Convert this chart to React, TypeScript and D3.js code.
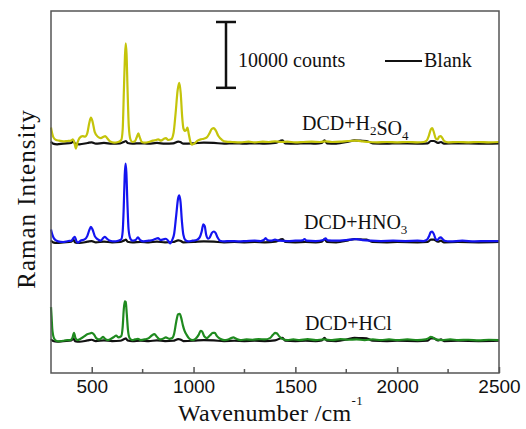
import React, { useEffect, useRef } from 'react';
import * as d3 from 'd3';

// Raman spectra, [wavenumber, counts above the curve's own baseline]
const h2so4Points: [number, number][] = [
    [300, 2300], [305, 1500], [312, 800], [325, 400], [340, 300], [360, 200], [380, 250], [398, 300], [408, 500],
    [415, 0], [422, -900], [430, 0], [440, 700], [455, 1000], [467, 900], [478, 1400], [488, 3000], [496, 3800],
    [504, 3200], [515, 1600], [530, 900], [545, 700], [558, 900], [566, 1000], [575, 700], [590, 200], [610, 0],
    [630, 100], [645, 400], [652, 2000], [658, 8000], [663, 13000], [667, 15100], [671, 13500], [676, 8000],
    [682, 2500], [690, 500], [700, 100], [712, 200], [722, 900], [729, 1400], [736, 800], [746, 100], [760, 0],
    [780, 100], [800, 300], [815, 400], [826, 500], [840, 300], [855, 600], [864, 700], [875, 400], [890, 500],
    [902, 1500], [912, 4500], [922, 8000], [930, 9100], [937, 7500], [944, 4000], [950, 2200], [957, 1800],
    [964, 1900], [970, 2300], [976, 1400], [984, 200], [993, -300], [1005, -100], [1020, 300], [1035, 500],
    [1050, 600], [1065, 800], [1078, 1400], [1090, 2100], [1100, 2200], [1110, 1800], [1122, 1000], [1140, 400],
    [1160, 150], [1190, 100], [1230, 50], [1270, 150], [1300, 50], [1340, 150], [1370, 100], [1400, 200],
    [1430, 100], [1460, 150], [1500, 50], [1540, 100], [1580, 150], [1620, 100], [1650, 200], [1680, 100],
    [1720, 150], [1760, 250], [1800, 300], [1830, 200], [1860, 100], [1900, 50], [1950, 100], [2000, 50],
    [2050, 100], [2100, 50], [2130, 100], [2145, 300], [2155, 1000], [2165, 2000], [2172, 2200], [2180, 1600],
    [2190, 600], [2198, 500], [2206, 900], [2214, 1000], [2222, 700], [2232, 200], [2250, 50], [2300, 100],
    [2350, 50], [2400, 100], [2450, 50], [2500, 100]
];

const hno3Points: [number, number][] = [
    [300, 1800], [305, 1200], [312, 600], [322, 200], [335, 0], [360, -100], [385, 50], [400, 100], [410, 500],
    [417, 700], [424, 100], [432, -200], [445, 100], [465, 300], [478, 800], [488, 1700], [496, 2200], [504, 1800],
    [515, 800], [530, 300], [545, 100], [556, 500], [565, 700], [575, 400], [590, 100], [610, 0], [630, 100],
    [645, 300], [652, 1500], [657, 5000], [662, 10000], [666, 11800], [670, 10500], [675, 6000], [681, 1800],
    [690, 400], [700, 100], [715, 200], [727, 600], [738, 200], [755, 0], [780, 100], [800, 200], [815, 400],
    [825, 500], [838, 200], [852, 300], [864, 400], [875, 100], [885, -300], [895, 200], [905, 1200], [915, 4000],
    [924, 6500], [930, 7000], [936, 6000], [943, 3000], [950, 1000], [960, 200], [975, 0], [995, 100], [1015, 200],
    [1030, 600], [1040, 1500], [1048, 2600], [1055, 2300], [1062, 1000], [1072, 400], [1080, 600], [1090, 1300],
    [1100, 1500], [1108, 1300], [1118, 600], [1130, 100], [1150, 0], [1180, 50], [1220, 0], [1260, 50], [1300, 100],
    [1330, 50], [1345, 200], [1354, 500], [1362, 200], [1380, 100], [1400, 250], [1420, 100], [1460, 50],
    [1500, 100], [1535, 150], [1545, 350], [1555, 100], [1600, 50], [1638, 200], [1648, 450], [1658, 150],
    [1700, 100], [1750, 200], [1780, 300], [1800, 350], [1830, 200], [1870, 100], [1920, 50], [1980, 100],
    [2040, 50], [2100, 100], [2130, 50], [2145, 200], [2155, 700], [2165, 1400], [2172, 1500], [2180, 1100],
    [2190, 300], [2198, 200], [2206, 500], [2214, 600], [2222, 400], [2232, 100], [2260, 0], [2320, 100],
    [2380, 0], [2440, 50], [2500, 50]
];

const hclPoints: [number, number][] = [
    [300, 5000], [303, 3500], [306, 1800], [310, 800], [316, 200], [325, -100], [340, -200], [360, -100], [380, 0],
    [395, 0], [405, 300], [413, 1100], [420, 300], [430, 0], [445, 200], [465, 600], [478, 900], [490, 1000],
    [500, 1100], [510, 900], [522, 300], [535, 100], [548, 300], [556, 500], [565, 200], [580, 0], [595, 200],
    [610, 500], [620, 700], [630, 400], [645, 600], [652, 2000], [657, 4500], [662, 5900], [667, 5800], [672, 4000],
    [678, 1500], [686, 300], [700, 0], [712, 100], [727, 200], [740, 0], [760, 100], [780, 300], [795, 700],
    [808, 900], [820, 500], [835, 100], [850, 200], [864, 400], [880, 200], [895, 300], [905, 1000], [915, 2800],
    [924, 3900], [932, 4000], [940, 3300], [948, 2200], [956, 1400], [966, 800], [980, 200], [995, 0], [1010, 200],
    [1025, 800], [1035, 1400], [1042, 1300], [1052, 600], [1065, 300], [1080, 700], [1095, 1100], [1104, 1100],
    [1115, 600], [1130, 200], [1150, 0], [1170, 100], [1185, 300], [1195, 400], [1210, 200], [1230, 0], [1260, 100],
    [1290, 50], [1320, 150], [1350, 100], [1375, 300], [1390, 800], [1400, 1100], [1410, 1000], [1420, 600],
    [1435, 200], [1460, 0], [1490, 100], [1520, 0], [1560, 150], [1600, 0], [1640, 100], [1680, 0], [1720, 150],
    [1760, 50], [1800, 100], [1840, 0], [1880, 100], [1920, 0], [1960, 100], [2000, 0], [2050, 100], [2100, 0],
    [2140, 100], [2155, 300], [2165, 500], [2175, 400], [2190, 100], [2220, 0], [2260, 100], [2300, 0], [2350, 50],
    [2400, -50], [2450, 50], [2500, 0]
];

const blankPoints: [number, number][] = [
    [300, 300], [310, 0], [330, -100], [360, 0], [400, 100], [410, 400], [418, 0], [440, -100], [480, 100],
    [500, 200], [520, 0], [560, 100], [600, 0], [640, 50], [660, 300], [668, 400], [676, 100], [700, 0], [740, 50],
    [780, 0], [820, 100], [860, 0], [900, 50], [925, 300], [935, 250], [950, 0], [1000, 50], [1050, 150],
    [1100, 100], [1150, 0], [1200, 50], [1250, 0], [1300, 50], [1350, 0], [1400, 100], [1437, 500], [1450, 50],
    [1500, 0], [1550, 50], [1600, 0], [1630, 100], [1643, 500], [1655, 50], [1700, 0], [1760, 300], [1790, 500],
    [1820, 450], [1850, 400], [1880, 50], [1950, 0], [2000, 50], [2100, 0], [2150, 50], [2165, 400], [2180, 400],
    [2200, 100], [2215, 250], [2230, 0], [2300, 50], [2400, 0], [2500, 50]
];

const seriesNames = ['DCD+HCl', 'DCD+HNO3', 'DCD+H2SO4'];
const seriesColors = ['#1f8a1f', '#1414f0', '#c4c40a'];
const seriesOffsets = [5000, 20000, 35000];
const blankOffsets = [4850, 19850, 34850];
const xTicks = [500, 1000, 1500, 2000, 2500];
const xMinorTicks = [750, 1250, 1750, 2250];
const scaleBarCounts = 10000;

const W = 526;
const H = 429;
const margin = { top: 11, right: 27, bottom: 56, left: 51 };

const App = () => {
    const ref = useRef<SVGSVGElement>(null);

    useEffect(() => {
        const svg = d3.select(ref.current);
        svg.selectAll('*').remove();

        const x = d3.scaleLinear().domain([300, 2500]).range([margin.left, W - margin.right]);
        const y = d3.scaleLinear().domain([0, 55000]).range([H - margin.bottom, margin.top]);

        const serif = 'Liberation Serif, Times New Roman, serif';
        const sans = 'Liberation Sans, Arial, sans-serif';

        const line = (offset: number) => d3.line<[number, number]>()
            .x(d => x(d[0]))
            .y(d => y(d[1] + offset))
            .curve(d3.curveMonotoneX);

        const spectra = [hclPoints, hno3Points, h2so4Points];

        spectra.forEach((pts, i) => {
            svg.append('path')
                .attr('d', line(blankOffsets[i])(blankPoints))
                .attr('fill', 'none')
                .attr('stroke', '#111')
                .attr('stroke-width', 2.2);
            svg.append('path')
                .attr('d', line(seriesOffsets[i])(pts))
                .attr('fill', 'none')
                .attr('stroke', seriesColors[i])
                .attr('stroke-width', 2.2)
                .attr('stroke-linejoin', 'round');
        });

        // frame
        svg.append('rect')
            .attr('x', margin.left).attr('y', margin.top)
            .attr('width', W - margin.left - margin.right)
            .attr('height', H - margin.top - margin.bottom)
            .attr('fill', 'none').attr('stroke', '#555').attr('stroke-width', 1.5);

        // bottom axis, inward ticks
        const axis = svg.append('g').attr('transform', `translate(0,${H - margin.bottom})`);
        axis.call(d3.axisBottom(x).tickValues(xTicks).tickSizeInner(-6).tickSizeOuter(0).tickFormat(d3.format('d')))
            .call(g => g.select('.domain').remove());
        axis.selectAll('line').attr('stroke', '#555').attr('stroke-width', 1.5);
        axis.selectAll('text')
            .attr('font-family', sans).attr('font-size', 19).attr('fill', '#111')
            .attr('y', 20).attr('dy', 0);
        axis.selectAll('.minor').data(xMinorTicks).enter().append('line')
            .attr('x1', d => x(d)).attr('x2', d => x(d))
            .attr('y1', 0).attr('y2', -4)
            .attr('stroke', '#555').attr('stroke-width', 1.5);

        // axis titles
        const xt = svg.append('text')
            .attr('x', 178).attr('y', 421)
            .attr('font-family', serif).attr('font-size', 24).attr('letter-spacing', 0.3).attr('fill', '#111');
        xt.append('tspan').text('Wavenumber /cm');
        xt.append('tspan').attr('font-size', 13).attr('dy', -16).text('-1');

        svg.append('text')
            .attr('transform', 'translate(35,199) rotate(-90)')
            .attr('text-anchor', 'middle')
            .attr('font-family', serif).attr('font-size', 25).attr('letter-spacing', 1)
            .attr('fill', '#111')
            .text('Raman Intensity');

        // scale bar
        const barX = 226;
        const barTop = 22;
        const barBottom = barTop + (y(0) - y(scaleBarCounts));
        const bar = svg.append('g').attr('stroke', '#111').attr('stroke-width', 2.5);
        bar.append('line').attr('x1', barX).attr('x2', barX).attr('y1', barTop).attr('y2', barBottom);
        bar.append('line').attr('x1', barX - 10).attr('x2', barX + 10).attr('y1', barTop).attr('y2', barTop);
        bar.append('line').attr('x1', barX - 10).attr('x2', barX + 10).attr('y1', barBottom).attr('y2', barBottom);
        svg.append('text').attr('x', 238).attr('y', 67)
            .attr('font-family', serif).attr('font-size', 20).attr('fill', '#111')
            .text(`${scaleBarCounts} counts`);

        // legend
        svg.append('line').attr('x1', 385).attr('x2', 422).attr('y1', 61).attr('y2', 61)
            .attr('stroke', '#111').attr('stroke-width', 2);
        svg.append('text').attr('x', 424).attr('y', 67)
            .attr('font-family', serif).attr('font-size', 20).attr('fill', '#111')
            .text('Blank');

        // series labels with subscripts
        const labelPos = [[305, 330], [304, 229], [302, 130]];
        seriesNames.forEach((name, i) => {
            const t = svg.append('text')
                .attr('x', labelPos[i][0]).attr('y', labelPos[i][1])
                .attr('font-family', serif).attr('font-size', 20).attr('fill', '#111');
            name.split(/(\d)/).filter(s => s).forEach(part => {
                if (/\d/.test(part)) {
                    t.append('tspan').attr('font-size', 13).attr('dy', 5).text(part);
                    t.append('tspan').attr('dy', -5).text('');
                } else {
                    t.append('tspan').text(part);
                }
            });
        });
    }, []);

    return (
        <svg ref={ref} width={W} height={H}
            style={{ position: 'absolute', left: 0, top: 0, background: '#fff' }} />
    );
};

export default App;
